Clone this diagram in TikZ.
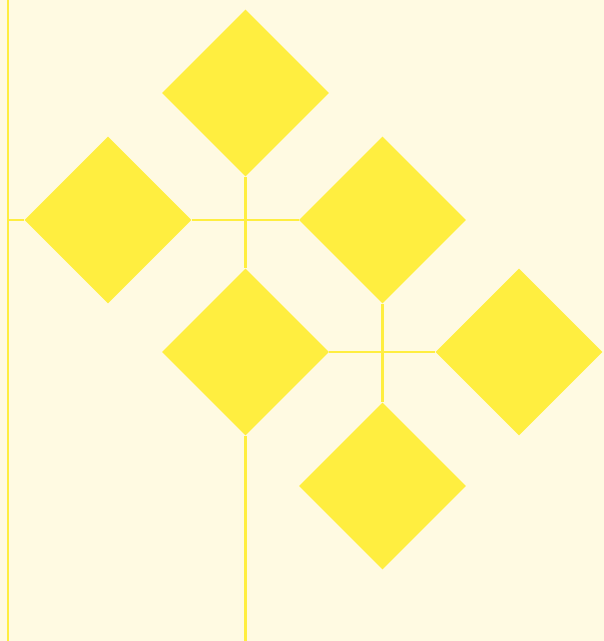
\documentclass[tikz,border=0pt]{standalone}
\usetikzlibrary{shapes.geometric}
\definecolor{bgc}{RGB}{255,250,226}
\definecolor{dia}{RGB}{255,238,64}
\begin{document}
\begin{tikzpicture}[x=1pt,y=-1pt,
  gem/.style={diamond,fill=dia,draw=none,inner sep=0pt,minimum size=167pt,aspect=1},
  conn/.style={draw=dia,line width=2.4pt}]
\fill[bgc] (0,0) rectangle (604,641);
\useasboundingbox (0,0) rectangle (604,641);
\node[gem] (top) at (245.5,93) {};
\node[gem] (left) at (108,220) {};
\node[gem] (rmid) at (382.5,220) {};
\node[gem] (center) at (245.5,352) {};
\node[gem] (far) at (519,352) {};
\node[gem] (bottom) at (382.5,486) {};
\coordinate (stemtop) at (8,0);
\coordinate (stembot) at (8,641);
\coordinate (branch) at (8,220);
\coordinate (root) at (245.5,641);
\draw[conn] (stemtop) -- (stembot);
\draw[conn] (branch) -- (left.west);
\draw[conn] (top.south) -- (center.north);
\draw[conn] (left.east) -- (rmid.west);
\draw[conn] (rmid.south) -- (bottom.north);
\draw[conn] (center.east) -- (far.west);
\draw[conn] (center.south) -- (root);
\end{tikzpicture}
\end{document}
